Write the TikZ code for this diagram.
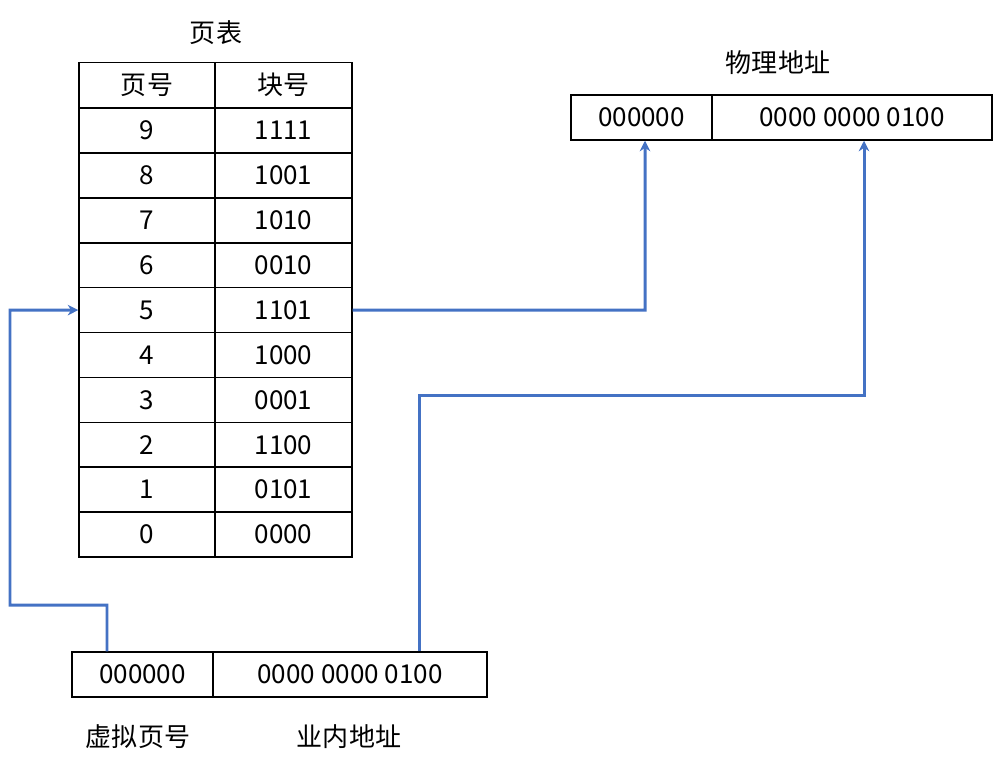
\documentclass[tikz,border=0pt]{standalone}
\usepackage{fontspec}
\setmainfont{Noto Sans CJK SC}
\usetikzlibrary{arrows.meta, positioning}
\definecolor{linkblue}{HTML}{4472C4}
\tikzset{
  cell/.style={draw, line width=0.4pt, minimum height=0.45cm, inner sep=0pt, font=\fontsize{7.4}{9}\selectfont},
  link/.style={linkblue, line width=0.85pt, -{Stealth[length=3pt, width=3pt]}},
  caption/.style={font=\fontsize{7.4}{9}\selectfont}
}
\begin{document}
\begin{tikzpicture}[x=0.01cm, y=-0.01cm]
  \useasboundingbox (0,0) rectangle (994,769);
  % page table
  \node[caption] (ptitle) at (216,33) {页表};
  \node[cell, minimum width=1.36cm] (hp) at (147,85) {页号};
  \node[cell, minimum width=1.37cm] (hb) at (283.5,85) {块号};
  \foreach \p/\b [count=\r from 0] in {9/1111,8/1001,7/1010,6/0010,5/1101,4/1000,3/0001,2/1100,1/0101,0/0000}{
    \node[cell, minimum width=1.36cm] (p\p) at (147,{130.5+44.9*\r}) {\p};
    \node[cell, minimum width=1.37cm] (b\p) at (283.5,{130.5+44.9*\r}) {\b};
  }
  % physical address
  \node[caption] (ttl) at (778,63) {物理地址};
  \node[cell, minimum width=1.41cm] (phig) at (641.5,117.5) {000000};
  \node[cell, minimum width=2.80cm] (plow) at (852,117.5) {0000 0000 0100};
  % virtual address
  \node[cell, minimum width=1.41cm] (vhig) at (142.5,674.5) {000000};
  \node[cell, minimum width=2.74cm] (vlow) at (350,674.5) {0000 0000 0100};
  \node[caption] (vl1) at (138,737) {虚拟页号};
  \node[caption] (vl2) at (349,737) {业内地址};
  % connectors
  \draw[link] (vhig.north -| 107,0) -- (107,605) -- (10,605) -- (10,310) -- (p5.west);
  \draw[link] (b5.east) -- (645,310) -- (phig.south -| 645,0);
  \draw[link] (vlow.north -| 419,0) -- (419,395) -- (864,395) -- (plow.south -| 864,0);
\end{tikzpicture}
\end{document}
